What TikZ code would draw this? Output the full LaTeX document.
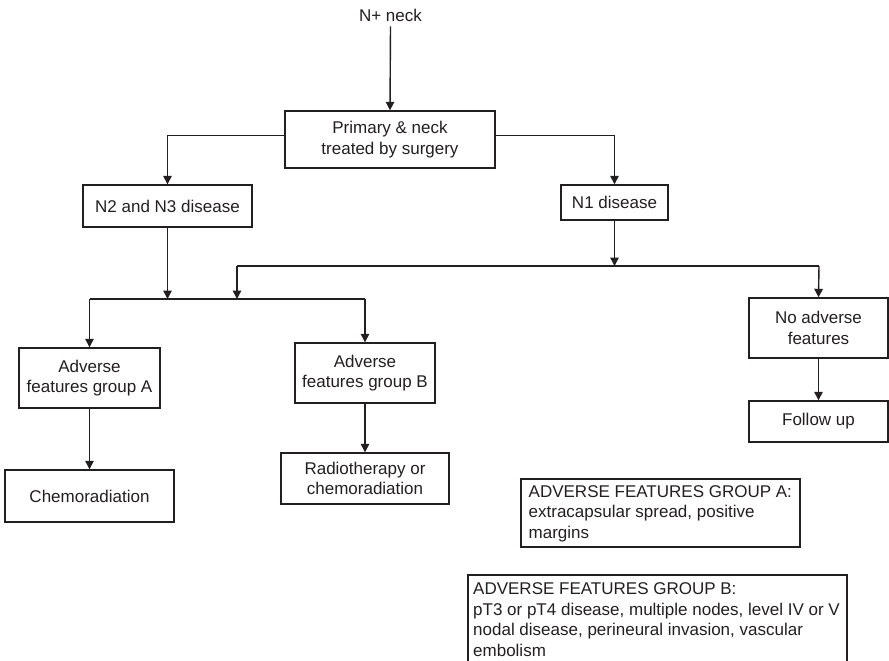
\documentclass[tikz,border=0pt]{standalone}
\usepackage{fontspec}
\setmainfont{Liberation Sans}
\usetikzlibrary{arrows.meta}
\definecolor{ink}{RGB}{35,31,32}
\begin{document}
\begin{tikzpicture}[x=1pt,y=-1pt,
  every node/.style={text=ink,font=\fontsize{17}{20.5}\selectfont},
  box/.style={draw=ink,line width=1.4pt,align=center,inner sep=0pt,minimum width=#1},
  conn/.style={draw=ink,line width=1.4pt},
  arr/.style={conn,-{Triangle[length=8.5pt,width=8.5pt]}}]
\useasboundingbox (0,0) rectangle (889,661);
\clip (0,0) rectangle (889,661);
% nodes
\node[inner sep=0pt] (top) at (390.5,15) {N+ neck};
\node[box=210pt,minimum height=57pt] (prim) at (390,139.5) {Primary \& neck\\treated by surgery};
\node[box=169pt,minimum height=42pt] (n23) at (167.5,206) {N2 and N3 disease};
\node[box=107pt,minimum height=35pt] (n1) at (614.5,202.5) {N1 disease};
\node[box=141pt,minimum height=60pt] (advA) at (89.5,378) {Adverse\\features group A};
\node[box=169pt,minimum height=52pt] (chemo) at (89.5,496) {Chemoradiation};
\node[box=140pt,minimum height=60pt] (advB) at (365,373) {Adverse\\features group B};
\node[box=168pt,minimum height=51pt] (radio) at (365,478.5) {Radiotherapy or\\chemoradiation};
\node[box=139pt,minimum height=60pt] (noadv) at (818.5,328) {No adverse\\features};
\node[box=139pt,minimum height=41pt] (follow) at (818.5,421.5) {Follow up};
% legends
\draw[conn] (521,479) rectangle (800,547);
\node[anchor=north west,inner sep=0pt,align=left] (legA) at (528.5,485)
  {ADVERSE FEATURES GROUP A:\\extracapsular spread, positive\\margins};
\draw[conn] (468,680) -- (468,575) -- (847,575) -- (847,680);
\node[anchor=north west,inner sep=0pt,align=left] (legB) at (473,582.5)
  {ADVERSE FEATURES GROUP B:\\pT3 or pT4 disease, multiple nodes, level IV or V\\nodal disease, perineural invasion, vascular\\embolism};
% bus coordinates
\coordinate (b1L) at (237,266);
\coordinate (b1R) at (819,266);
\coordinate (b2L) at (89.5,299);
\coordinate (b2R) at (365,299);
% connectors
\draw[arr] ([yshift=-5pt]top.south) -- (prim.north);
\draw[arr] ([yshift=4pt]prim.west) -| (n23.north);
\draw[arr] ([yshift=4pt]prim.east) -| (n1.north);
\draw[arr] (n23.south) -- (n23.south |- b2L);
\draw[arr] (n1.south) -- (n1.south |- b1L);
\draw[conn] (b1L) -- (b1R);
\draw[arr] (b1L) -- (b1L |- b2L);
\draw[arr] (b1R) -- (noadv.north);
\draw[conn] (b2L) -- (b2R);
\draw[arr] (b2L) -- (advA.north);
\draw[arr] (b2R) -- (advB.north);
\draw[arr] (advA) -- (chemo);
\draw[arr] (advB) -- (radio);
\draw[arr] (noadv) -- (follow);
\end{tikzpicture}
\end{document}
